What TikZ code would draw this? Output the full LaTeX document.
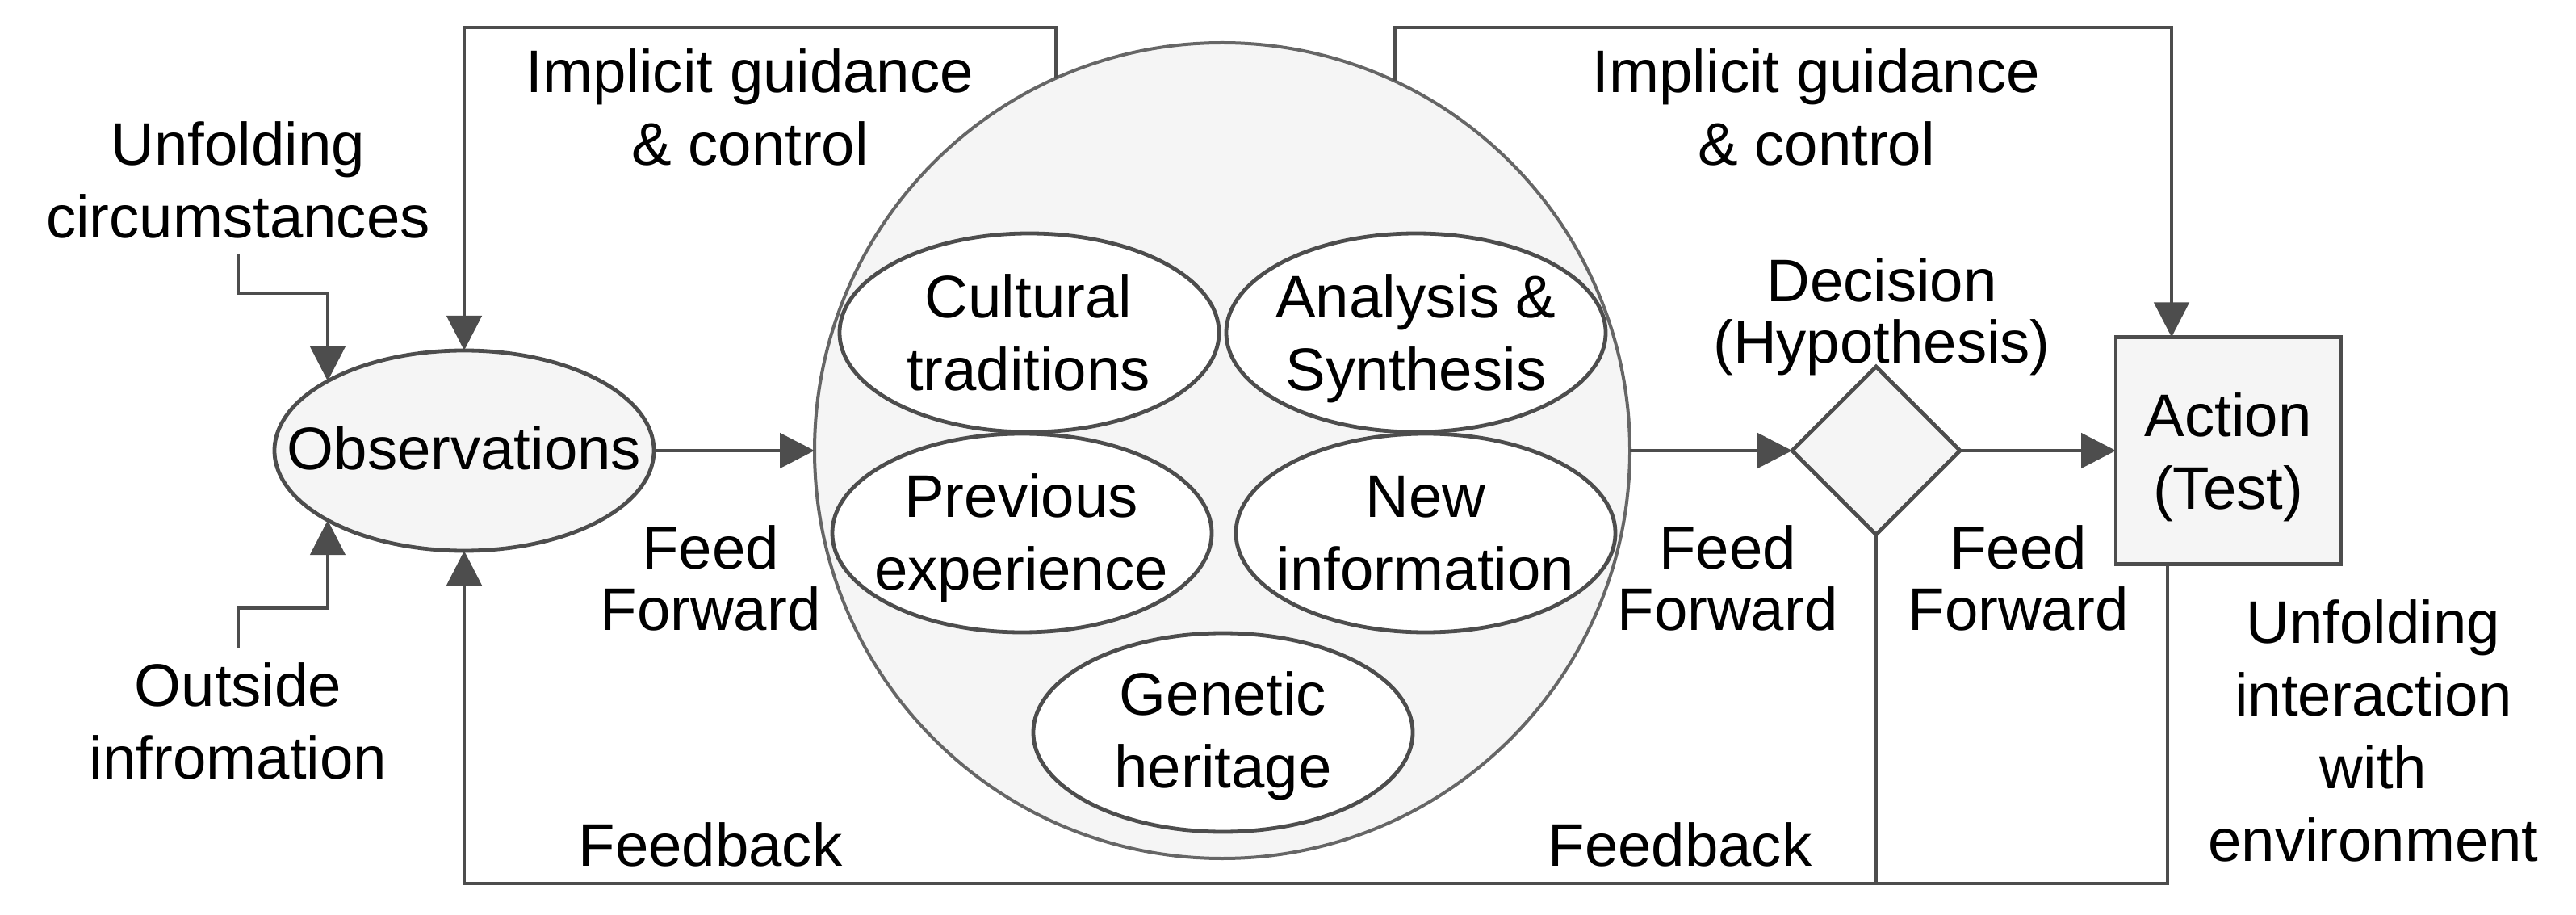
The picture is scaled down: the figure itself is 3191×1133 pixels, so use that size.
\documentclass[tikz,border=0pt]{standalone}
\usepackage{fontspec}
\setmainfont{Liberation Sans}
\usetikzlibrary{arrows.meta,shapes.geometric}
\definecolor{lc}{HTML}{4D4D4D}
\definecolor{bc}{HTML}{666666}
\definecolor{fl}{HTML}{F5F5F5}
\begin{document}
\begin{tikzpicture}[x=0.25pt,y=-0.25pt,
  lbl/.style={font=\fontsize{18.6}{22.5}\selectfont, align=center, inner sep=0pt, anchor=base},
  lblt/.style={lbl, font=\fontsize{18.6}{19}\selectfont},
  conn/.style={draw=lc, line width=1.2pt},
  arr/.style={conn, -{Triangle[length=10.75pt,width=10.75pt]}},
  ell/.style={ellipse, draw=lc, line width=1.2pt, inner sep=0pt, outer sep=0pt},
  inell/.style={ell, fill=white, minimum width=117.5pt, minimum height=61.5pt},
]
\useasboundingbox (0,0) rectangle (3191,1133);

% shapes
\node[circle, draw=bc, fill=fl, line width=1pt, minimum size=252.5pt, inner sep=0pt, outer sep=0pt] (big) at (1514,558) {};
\node[ell, fill=fl, minimum width=117.5pt, minimum height=62pt] (obs) at (575,558) {};
\node[inell] (cul) at (1275,412) {};
\node[inell] (ana) at (1754,412) {};
\node[inell] (pre) at (1266,660) {};
\node[inell] (new) at (1766,660) {};
\node[inell] (gen) at (1515,907) {};
\node[diamond, draw=lc, fill=fl, line width=1.2pt, minimum width=52pt, minimum height=52pt, inner sep=0pt, outer sep=0pt] (dec) at (2324,558) {};
\node[rectangle, draw=lc, fill=fl, line width=1.2pt, minimum width=69.75pt, minimum height=70.25pt, inner sep=0pt, outer sep=0pt] (act) at (2760.5,558) {};

% texts (anchored at the baseline of the last line)
\node[lbl] (obsT) at (575,581.7) {Observations};
\node[lbl] (culT) at (1274,484) {Cultural\\traditions};
\node[lbl] (anaT) at (1754,484) {Analysis \&\\Synthesis};
\node[lbl] (preT) at (1265,730) {Previous\\experience};
\node[lbl] (newT) at (1766,730) {New\\information};
\node[lbl] (genT) at (1515,975.7) {Genetic\\heritage};
\node[lbl] (actT) at (2760,630) {Action\\(Test)};
\node[lblt] (decT) at (2331,449.6) {Decision\\(Hypothesis)};
\node[lbl] (ig1) at (929,205) {Implicit guidance\\\& control};
\node[lbl] (ig2) at (2250,205) {Implicit guidance\\\& control};
\node[lbl] (unc) at (295,295) {Unfolding\\circumstances};
\node[lbl] (oin) at (295,964.6) {Outside\\infromation};
\node[lblt] (ff1) at (880,780) {Feed\\Forward};
\node[lblt] (ff2) at (2140,780) {Feed\\Forward};
\node[lblt] (ff3) at (2500,780) {Feed\\Forward};
\node[lbl] (fb1) at (880,1072) {Feedback};
\node[lbl] (fb2) at (2081,1072) {Feedback};
\node[lbl] (uie) at (2940,1066.8) {Unfolding\\interaction\\with\\environment};

% connectors
\coordinate (ucA) at (295,314);
\coordinate (oiA) at (295,803);
\draw[arr] (ucA) -- (295,363) -| (obs.153);
\draw[arr] (oiA) -- (295,752.6) -| (obs.-153);
\draw[arr] (obs.east) -- (big.west);
\draw[arr] (big.east) -- (dec.west);
\draw[arr] (dec.east) -- (act.west);
\draw[arr] (big.114) -- (big.114 |- 0,34) -| (obs.north);
\draw[arr] (big.65) -- (big.65 |- 0,34) -| (2690,0 |- act.north);
\draw[arr] (2685,0 |- act.south) -- (2685,1094) -| (obs.south);
\draw[conn] (dec.south) -- (dec.south |- 0,1094);
\end{tikzpicture}
\end{document}
